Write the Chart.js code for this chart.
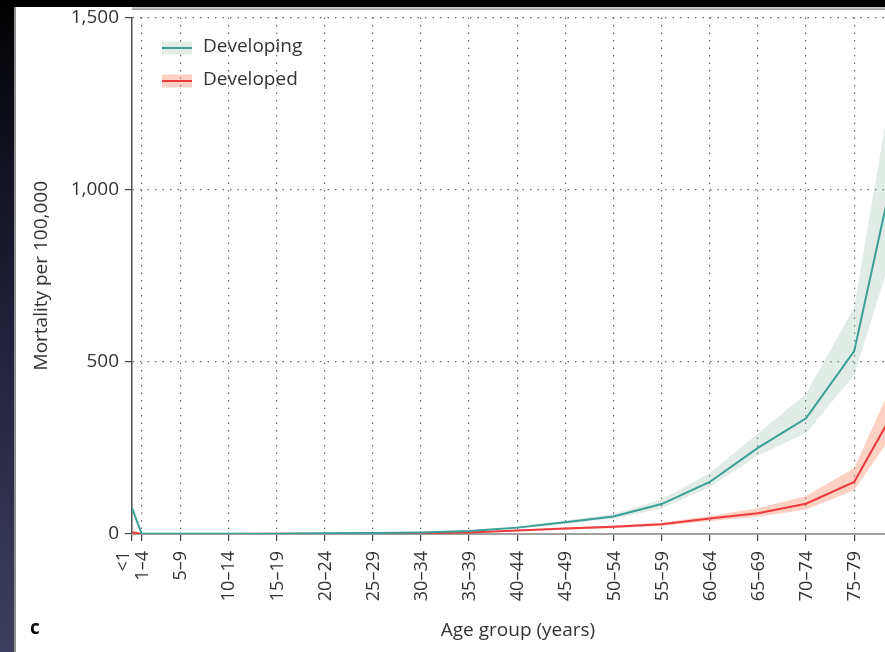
<!DOCTYPE html>
<html>
<head>
<meta charset="utf-8">
<script src="https://cdn.jsdelivr.net/npm/chart.js@4.4.1/dist/chart.umd.min.js"></script>
<style>
  html, body { margin: 0; padding: 0; background: #fff; }
  #wrap { position: relative; width: 885px; height: 652px; overflow: hidden; background: #fff; }
  #chart { position: absolute; left: 0; top: 0; }
  #edgeL { position: absolute; left: 0; top: 0; width: 14px; height: 652px;
           background: linear-gradient(#000 0%, #0a0a12 12%, #20203a 50%, #3e3e60 100%);
           border-right: 2px solid #8e8e8e; }
  #edgeT { position: absolute; left: 0; top: 0; width: 885px; height: 7px; background: #000; }
  #rule  { position: absolute; left: 132px; top: 7px; width: 753px; height: 3px;
           background: linear-gradient(#cfcfcf, #9c9c9c); }
</style>
</head>
<body>
<div id="wrap">
  <canvas id="chart" width="885" height="652"></canvas>
  <div id="edgeL"></div>
  <div id="edgeT"></div>
  <div id="rule"></div>
</div>
<script>
// Age groups: lower bound of each group (years) and its label
const ageStarts = [0, 1, 5, 10, 15, 20, 25, 30, 35, 40, 45, 50, 55, 60, 65, 70, 75, 80];
const ageLabels = ['<1', '1–4', '5–9', '10–14', '15–19', '20–24', '25–29', '30–34', '35–39',
                   '40–44', '45–49', '50–54', '55–59', '60–64', '65–69', '70–74', '75–79', '80–84'];

// Mortality per 100,000 — developing countries (estimate and uncertainty interval)
const developing     = [75, 1.0, 0.5, 0.5, 1.0, 2.0, 3.0, 4.5, 9, 18.5, 34, 51, 87, 151, 250, 336, 531, 1170];
const developingLow  = [72, 0.8, 0.4, 0.4, 0.8, 1.6, 2.4, 3.6, 7.2, 15.5, 29, 44, 74, 136, 228, 293, 462, 910];
const developingHigh = [78, 1.2, 0.6, 0.6, 1.2, 2.5, 3.6, 5.6, 11, 21.5, 39, 58, 100, 177, 291, 407, 658, 1480];

// Mortality per 100,000 — developed countries
const developed      = [5, 0.3, 0.2, 0.2, 0.5, 1.0, 1.5, 2.5, 4, 10, 16, 21, 28, 45, 60, 88, 151, 400];
const developedLow   = [4, 0.2, 0.15, 0.15, 0.4, 0.8, 1.2, 2.0, 3.2, 8, 12.5, 16.5, 23, 38, 50, 71, 127, 330];
const developedHigh  = [6, 0.4, 0.25, 0.25, 0.6, 1.2, 1.8, 3.0, 5, 12, 19, 25, 33, 52, 75, 110, 192, 500];

const yTicks = [0, 500, 1000, 1500];

const TEAL = '#3a9f97';
const TEAL_BAND = 'rgba(135,179,155,0.25)';
const RED = '#ec3a3e';
const RED_BAND = 'rgba(246,126,86,0.35)';
const FONT = '"Open Sans", "Noto Sans", sans-serif';
const TEXT = '#333333';

const pts = vals => ageStarts.map((a, i) => ({ x: a, y: vals[i] }));

const bandStyle = { borderWidth: 0, pointRadius: 0, tension: 0 };

// Rotated x tick labels, legend inside the plot, axis title and panel letter
const extras = {
  id: 'extras',
  afterDraw(chart) {
    const ctx = chart.ctx;
    const xs = chart.scales.x;
    const area = chart.chartArea;
    const tickFont = `18px ${FONT}`;
    const labelGap = 19;

    ctx.save();
    ctx.fillStyle = TEXT;
    ctx.font = tickFont;
    ctx.textAlign = 'right';
    ctx.textBaseline = 'middle';
    const ticks = xs.ticks.map(t => t.value);
    ticks.forEach((v, i) => {
      let px = xs.getPixelForValue(v);
      if (i + 1 < ticks.length) {
        const nextPx = xs.getPixelForValue(ticks[i + 1]);
        if (nextPx - px < labelGap) px = nextPx - labelGap;
      }
      const label = ageLabels[ageStarts.indexOf(v)];
      ctx.save();
      ctx.translate(px + 1, area.bottom + 17);
      ctx.rotate(-Math.PI / 2);
      ctx.fillText(label, 0, 0);
      ctx.restore();
    });

    // x-axis title
    ctx.font = `19px ${FONT}`;
    ctx.textAlign = 'center';
    ctx.fillText('Age group (years)', 518, 631);

    // panel letter
    ctx.font = `bold 19px ${FONT}`;
    ctx.fillStyle = '#000';
    ctx.fillText('c', 35, 629);

    // legend
    const items = [
      { label: 'Developing', line: TEAL, band: TEAL_BAND },
      { label: 'Developed',  line: RED,  band: RED_BAND }
    ];
    ctx.font = `19px ${FONT}`;
    ctx.textAlign = 'left';
    items.forEach((it, i) => {
      const cy = 48 + i * 33;
      ctx.fillStyle = it.band;
      ctx.fillRect(162, cy - 6.5, 30, 13);
      ctx.strokeStyle = it.line;
      ctx.lineWidth = 2;
      ctx.beginPath();
      ctx.moveTo(162, cy);
      ctx.lineTo(192, cy);
      ctx.stroke();
      ctx.fillStyle = TEXT;
      ctx.fillText(it.label, 203, cy - 1);
    });
    ctx.restore();
  }
};

new Chart(document.getElementById('chart'), {
  type: 'line',
  data: {
    datasets: [
      { label: 'Developing', data: pts(developing), borderColor: TEAL, borderWidth: 2,
        pointRadius: 0, tension: 0, fill: false, order: 0 },
      { label: 'Developed', data: pts(developed), borderColor: RED, borderWidth: 2,
        pointRadius: 0, tension: 0, fill: false, order: 1 },
      { label: 'Developing upper', data: pts(developingHigh), backgroundColor: TEAL_BAND,
        fill: '+1', order: 2, ...bandStyle },
      { label: 'Developing lower', data: pts(developingLow), fill: false, order: 2, ...bandStyle },
      { label: 'Developed upper', data: pts(developedHigh), backgroundColor: RED_BAND,
        fill: '+1', order: 3, ...bandStyle },
      { label: 'Developed lower', data: pts(developedLow), fill: false, order: 3, ...bandStyle }
    ]
  },
  options: {
    responsive: false,
    animation: false,
    devicePixelRatio: 1,
    layout: { padding: { top: 14, left: 0, right: 0, bottom: 0 } },
    plugins: { legend: { display: false }, tooltip: { enabled: false } },
    scales: {
      x: {
        type: 'linear',
        min: 0,
        max: 78.2,
        afterBuildTicks: s => { s.ticks = ageStarts.filter(a => a <= s.max).map(a => ({ value: a })); },
        afterFit: s => { s.height = 118; },
        ticks: { display: false },
        grid: { color: '#6a6a6a', lineWidth: 1.2, tickLength: 7, tickColor: '#444',
                tickWidth: 1.2, tickBorderDash: [] },
        border: { display: true, color: '#a0a0a0', width: 2, dash: [1.5, 6] }
      },
      y: {
        min: 0,
        max: 1500,
        afterBuildTicks: s => { s.ticks = yTicks.map(v => ({ value: v })); },
        afterFit: s => { s.width = 132; },
        ticks: {
          font: { family: FONT, size: 19 },
          color: TEXT,
          padding: 6,
          callback: v => Number(v).toLocaleString('en-US')
        },
        title: {
          display: true,
          text: 'Mortality per 100,000',
          font: { family: FONT, size: 19 },
          color: TEXT,
          padding: { top: 30, bottom: 0 }
        },
        grid: { color: '#6a6a6a', lineWidth: 1.2, tickLength: 7, tickColor: '#444',
                tickWidth: 1.2, tickBorderDash: [] },
        border: { display: true, color: '#555', width: 1.5, dash: [1.5, 6] }
      }
    }
  },
  plugins: [extras]
});
</script>
</body>
</html>
